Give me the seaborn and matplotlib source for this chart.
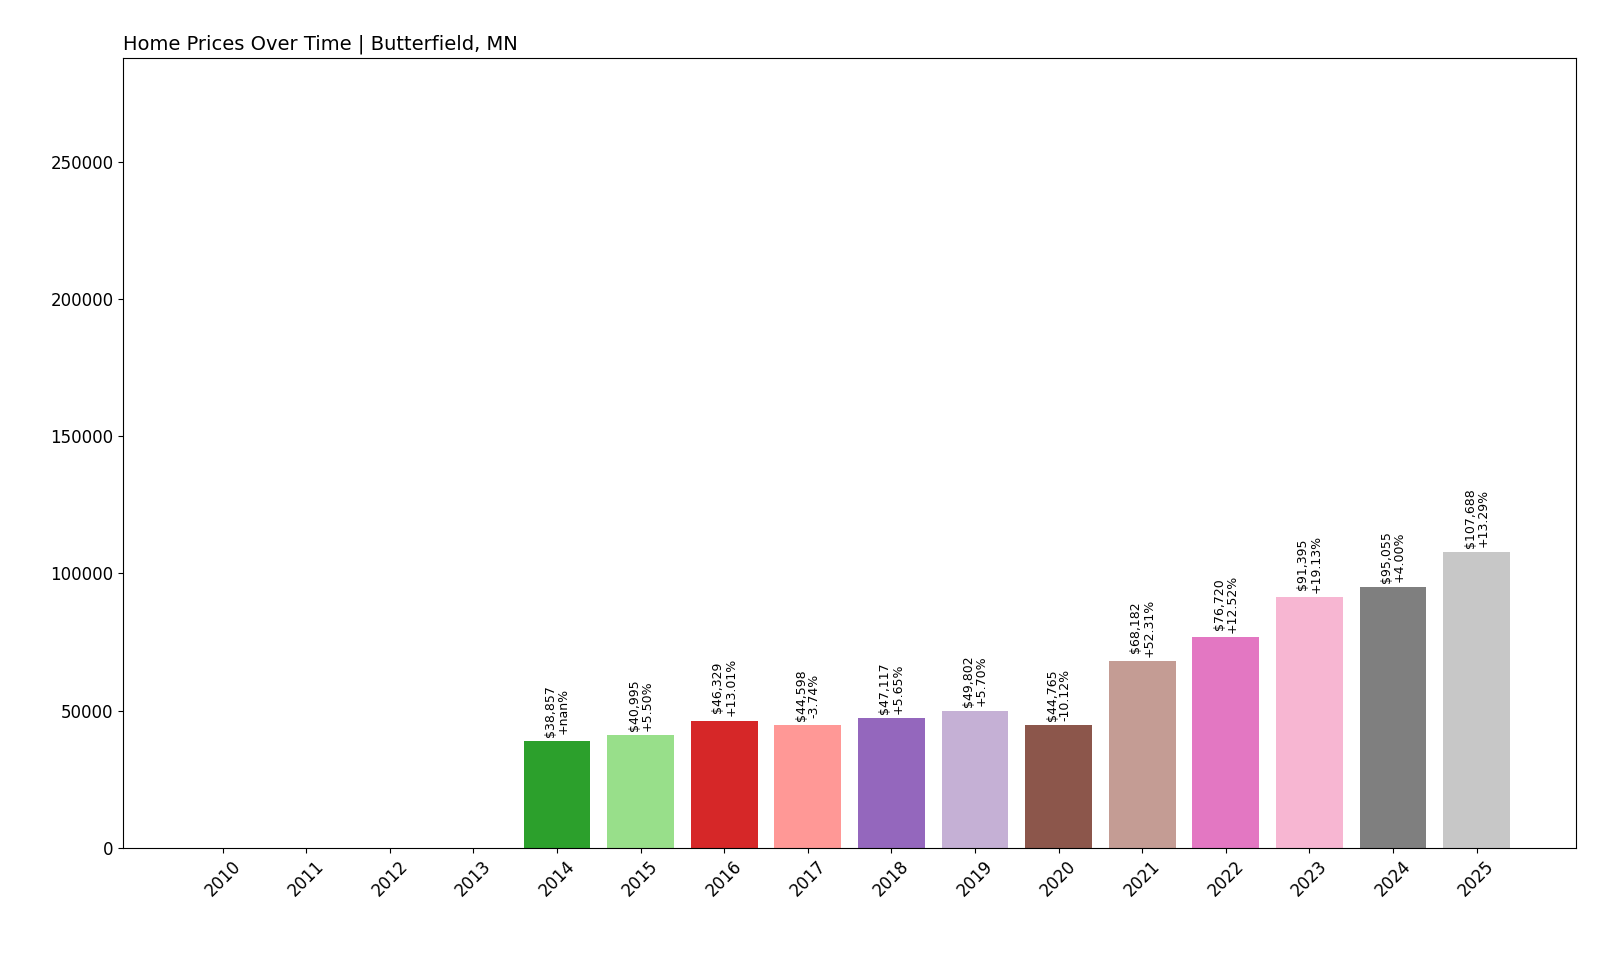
import matplotlib
matplotlib.use("Agg")
import matplotlib.pyplot as plt
import numpy as np
import pandas as pd
import seaborn as sns

years = [str(y) for y in range(2010, 2026)]
prices = [0, 0, 0, 0, 38857, 40995, 46329, 44598, 47117, 49802, 44765,
          68182, 76720, 91395, 95055, 107688]
changes = ["", "", "", "", "+nan%", "+5.50%", "+13.01%", "-3.74%", "+5.65%",
           "+5.70%", "-10.12%", "+52.31%", "+12.52%", "+19.13%", "+4.00%", "+13.29%"]

df = pd.DataFrame({"year": years, "price": prices})
palette = sns.color_palette("tab20", len(years))

fig, ax = plt.subplots(figsize=(16, 9.6), dpi=100)
fig.subplots_adjust(left=0.077, right=0.985, top=0.94, bottom=0.117)
sns.barplot(data=df, x="year", y="price", hue="year", palette=palette,
            legend=False, ax=ax, width=0.8, saturation=1)

for patch, price, chg in zip(ax.patches, prices, changes):
    if price <= 0:
        continue
    x = patch.get_x() + patch.get_width() / 2
    ax.text(x, price + 1500, f"${price:,}\n{chg}", rotation=90, ha="center",
            va="bottom", fontsize=9, linespacing=1.0)

ax.set_xlim(-1.19, 16.19)
ax.set_ylim(0, 288000)
ax.set_yticks([0, 50000, 100000, 150000, 200000, 250000])
ax.set_xlabel("")
ax.set_ylabel("")
ax.tick_params(axis="x", rotation=45, labelsize=12)
ax.tick_params(axis="y", labelsize=12)
ax.set_title("Home Prices Over Time | Butterfield, MN", loc="left", fontsize=14)

fig.savefig("out.png")
